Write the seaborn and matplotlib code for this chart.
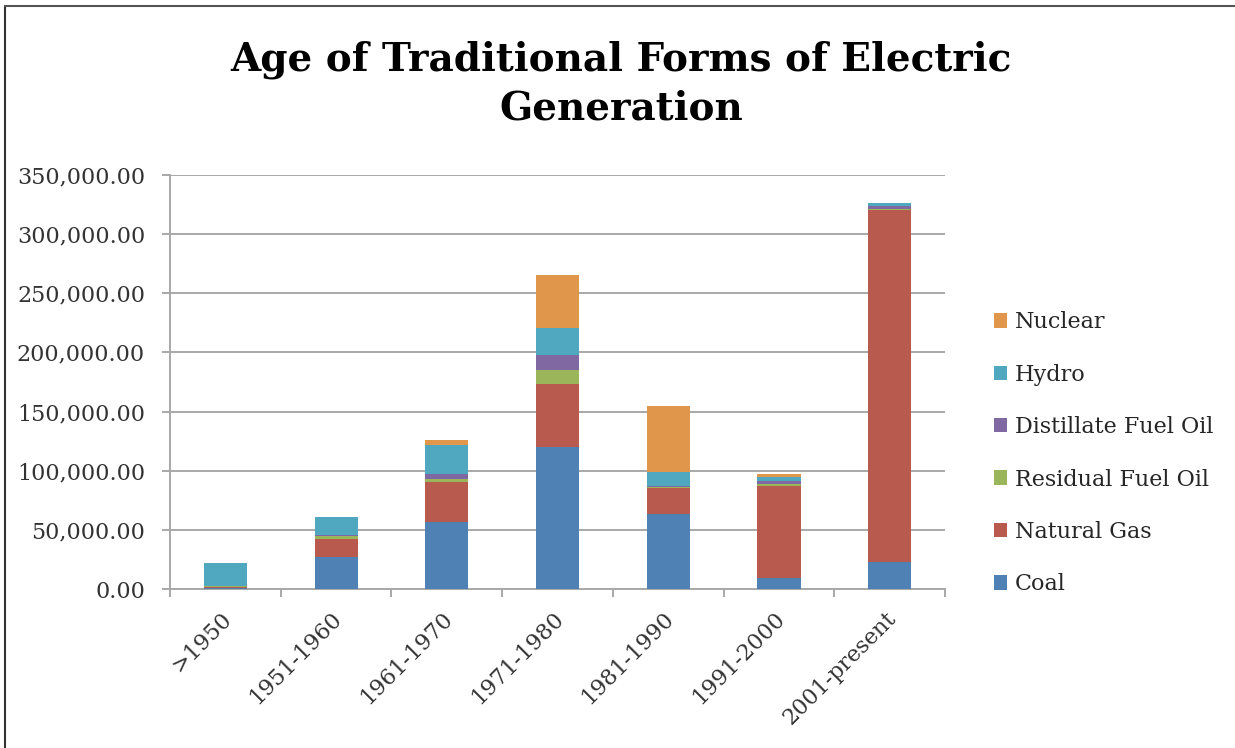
import numpy as np
import pandas as pd
import matplotlib
matplotlib.use("Agg")
import matplotlib.pyplot as plt
from matplotlib.patches import Patch
from matplotlib.lines import Line2D
from matplotlib.ticker import FuncFormatter, MultipleLocator, FixedLocator
from matplotlib.transforms import ScaledTranslation
import seaborn as sns

# Installed capacity by decade of construction
periods = [">1950", "1951-1960", "1961-1970", "1971-1980", "1981-1990", "1991-2000", "2001-present"]
coal = [1500, 27200, 57000, 120600, 63700, 9500, 23000]
natural_gas = [300, 15200, 33700, 52800, 21700, 78100, 297300]
residual_fuel_oil = [1200, 2800, 2800, 12100, 1100, 1400, 300]
distillate_fuel_oil = [200, 500, 4200, 12100, 1100, 2500, 2800]
hydro = [18800, 15500, 24500, 23000, 11500, 3100, 2500]
nuclear = [0, 0, 4200, 44400, 55400, 2500, 0]

series_names = ["Coal", "Natural Gas", "Residual Fuel Oil", "Distillate Fuel Oil", "Hydro", "Nuclear"]
series_values = [coal, natural_gas, residual_fuel_oil, distillate_fuel_oil, hydro, nuclear]
series_colors = ["#4F81B5", "#B95A4F", "#9BB55B", "#8068A2", "#4FA8C0", "#E0964B"]

sns.set_style("white")
plt.rcParams["font.family"] = ["DejaVu Serif"]

fig = plt.figure(figsize=(12.35, 7.48), dpi=100)
ax = fig.add_axes([0.1377, 0.2119, 0.6275, 0.5548])

df = pd.DataFrame(dict(zip(series_names, series_values)), index=periods)
cum = df.cumsum(axis=1)

# draw cumulative totals from the top layer down so each segment shows through
for name, color in reversed(list(zip(series_names, series_colors))):
    sns.barplot(x=periods, y=cum[name].values, color=color, width=0.39,
                edgecolor="none", linewidth=0, saturation=1, ax=ax, zorder=3)

ax.set_ylim(0, 350000)
ax.set_xlim(-0.5, len(periods) - 0.5)
ax.yaxis.set_major_locator(MultipleLocator(50000))
ax.yaxis.set_major_formatter(FuncFormatter(lambda v, p: f"{v:,.2f}"))
ax.grid(axis="y", color="#A8A8A8", linewidth=1.4, zorder=0)
ax.set_axisbelow(True)

for side in ["top", "right"]:
    ax.spines[side].set_visible(False)
for side in ["left", "bottom"]:
    ax.spines[side].set_color("#A8A8A8")
    ax.spines[side].set_linewidth(1.4)

ax.tick_params(axis="y", which="major", length=6, width=1.4, color="#A8A8A8",
               labelsize=16, labelcolor="#333333", pad=12, left=True)
ax.set_xticks(range(len(periods)))
ax.set_xticklabels(periods, rotation=45, ha="right", va="top",
                   rotation_mode="anchor", fontsize=16, color="#333333")
ax.tick_params(axis="x", which="major", length=0, pad=13)
shift = ScaledTranslation(-5 / 100, 0, fig.dpi_scale_trans)
for lbl in ax.get_xticklabels():
    lbl.set_transform(lbl.get_transform() + shift)
ax.xaxis.set_minor_locator(FixedLocator(np.arange(-0.5, len(periods), 1.0)))
ax.tick_params(axis="x", which="minor", length=6, width=1.4, color="#A8A8A8", bottom=True)
ax.set_xlabel("")
ax.set_ylabel("")

fig.text(0.503, 0.888, "Age of Traditional Forms of Electric\nGeneration",
         ha="center", va="center", fontsize=28, fontweight="bold",
         linespacing=1.36, color="black")

handles = [Patch(facecolor=c, edgecolor="none", label=n)
           for n, c in zip(series_names, series_colors)][::-1]
fig.legend(handles=handles, loc="center left", bbox_to_anchor=(0.8045, 0.394),
           frameon=False, fontsize=16, handlelength=0.62, handleheight=0.62,
           handletextpad=0.33, labelspacing=1.37, borderpad=0, borderaxespad=0)

# outer frame along the top and left edges
fig.add_artist(Line2D([5 / 1235, 5 / 1235], [0, 1 - 6 / 748], transform=fig.transFigure,
                      color="#333333", linewidth=1.5))
fig.add_artist(Line2D([5 / 1235, 1.01], [1 - 6 / 748, 1 - 6 / 748], transform=fig.transFigure,
                      color="#555555", linewidth=1.5))

fig.savefig("out.png", dpi=100, facecolor="white")
